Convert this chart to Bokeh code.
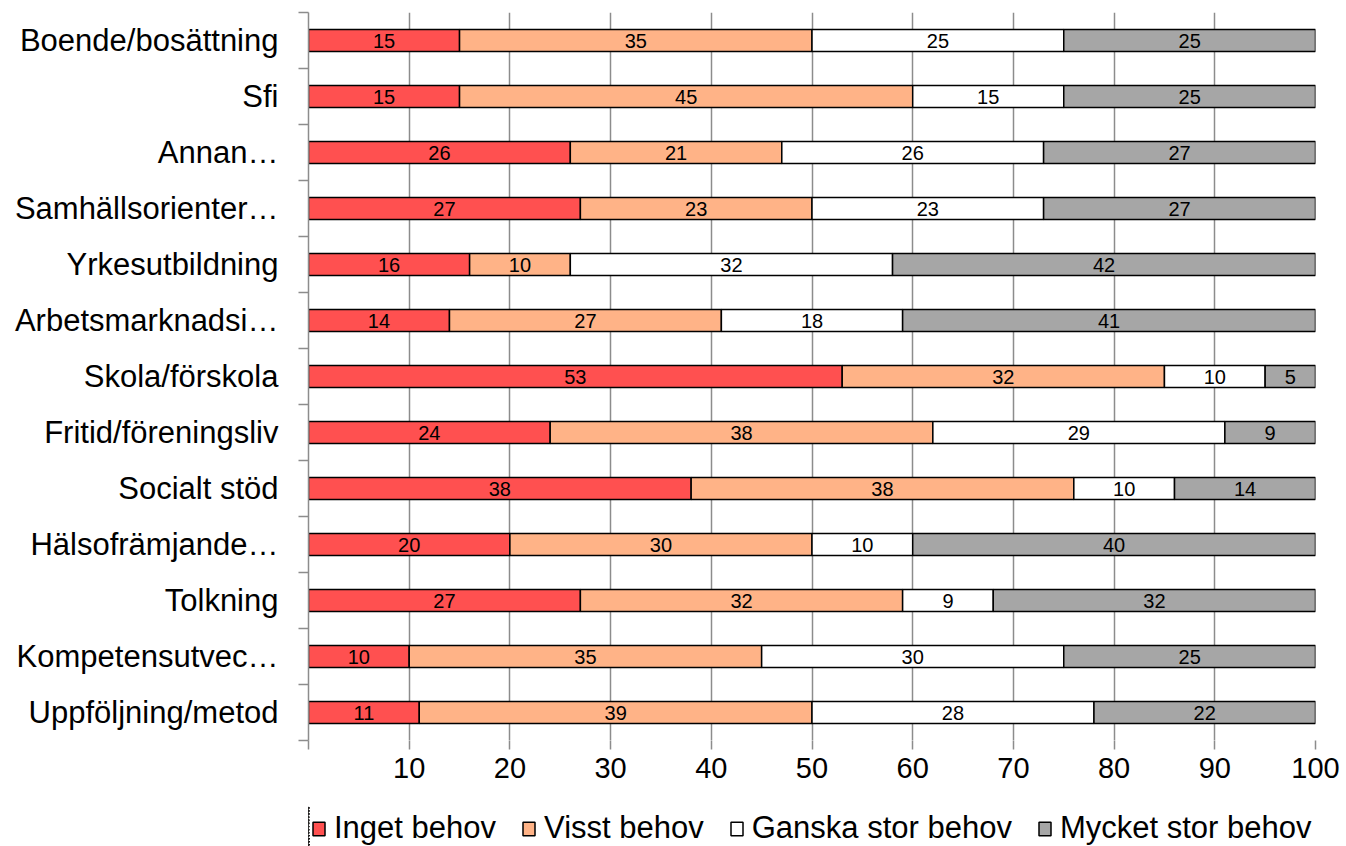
from bokeh.plotting import figure
from bokeh.models import ColumnDataSource, FixedTicker, Range1d, Legend, LegendItem
from bokeh.layouts import column
from bokeh.core.properties import value
from bokeh.embed import file_html
from bokeh.resources import INLINE

categories = ["Boende/bosättning", "Sfi", "Annan…", "Samhällsorienter…", "Yrkesutbildning",
              "Arbetsmarknadsi…", "Skola/förskola", "Fritid/föreningsliv", "Socialt stöd",
              "Hälsofrämjande…", "Tolkning", "Kompetensutvec…", "Uppföljning/metod"]
inget = [15, 15, 26, 27, 16, 14, 53, 24, 38, 20, 27, 10, 11]
visst = [35, 45, 21, 23, 10, 27, 32, 38, 38, 30, 32, 35, 39]
ganska = [25, 15, 26, 23, 32, 18, 10, 29, 10, 10, 9, 30, 28]
mycket = [25, 25, 27, 27, 42, 41, 5, 9, 14, 40, 32, 25, 22]
series_names = ["Inget behov", "Visst behov", "Ganska stor behov", "Mycket stor behov"]
colors = ["#FF5050", "#FFB387", "#FFFFFF", "#A6A6A6"]
x_ticks = [0, 10, 20, 30, 40, 50, 60, 70, 80, 90, 100]

FONT = "Liberation Sans"
n = len(categories)
ypos = [n - 0.5 - i for i in range(n)]
keys = ["inget", "visst", "ganska", "mycket"]
data = dict(y=ypos, inget=inget, visst=visst, ganska=ganska, mycket=mycket)
source = ColumnDataSource(data)

p = figure(width=1346, height=806, frame_width=1007, frame_height=728,
           output_backend="svg", toolbar_location=None,
           x_range=Range1d(0, 100), y_range=Range1d(0, n),
           min_border_left=308, min_border_top=12, min_border_right=31, min_border_bottom=66)
p.outline_line_color = None

renderers = p.hbar_stack(keys, y="y", height=0.39, source=source, color=colors,
                         line_color="black", line_width=1.5)

# value labels
lx, ly, lt = [], [], []
series = [inget, visst, ganska, mycket]
for i in range(n):
    left = 0
    for s in series:
        v = s[i]
        lx.append(left + v / 2)
        ly.append(ypos[i])
        lt.append(str(v))
        left += v
p.text(x=lx, y=ly, text=lt, text_align="center", text_baseline="middle",
       text_font=value(FONT), text_font_size="20px", text_color="black")

# axes
p.xaxis.ticker = FixedTicker(ticks=x_ticks)
p.xaxis.major_label_overrides = {0: ""}
p.xaxis.axis_line_color = None
p.xaxis.major_tick_line_color = "#8c8c8c"
p.xaxis.major_tick_line_width = 1.5
p.xaxis.major_tick_in = 0
p.xaxis.major_tick_out = 9
p.xaxis.minor_tick_line_color = None
p.xaxis.major_label_text_font = FONT
p.xaxis.major_label_text_font_size = "29px"
p.xaxis.major_label_text_color = "black"
p.xaxis.major_label_standoff = 8

p.yaxis.ticker = FixedTicker(ticks=ypos, minor_ticks=list(range(n + 1)))
p.yaxis.major_label_overrides = {y: c for y, c in zip(ypos, categories)}
p.yaxis.axis_line_color = "#8c8c8c"
p.yaxis.axis_line_width = 1.5
p.yaxis.major_tick_line_color = None
p.yaxis.major_tick_in = 0
p.yaxis.major_tick_out = 10
p.yaxis.minor_tick_line_color = "#8c8c8c"
p.yaxis.minor_tick_line_width = 1.5
p.yaxis.minor_tick_in = 0
p.yaxis.minor_tick_out = 10
p.yaxis.major_label_text_font = FONT
p.yaxis.major_label_text_font_size = "31px"
p.yaxis.major_label_text_color = "black"
p.yaxis.major_label_standoff = 20

p.xgrid.ticker = FixedTicker(ticks=x_ticks[1:])
p.xgrid.grid_line_color = "#8c8c8c"
p.xgrid.grid_line_width = 1.5
p.ygrid.grid_line_color = None

# legend strip below the chart: same series, ranged out of view, legend only
pl = figure(width=1346, height=40, output_backend="svg", toolbar_location=None,
            x_range=Range1d(1000, 1100), y_range=Range1d(0, n),
            x_axis_location=None, y_axis_location=None, min_border=0)
pl.grid.grid_line_color = None
pl.outline_line_color = None
legend_renderers = pl.hbar_stack(keys, y="y", height=0.39, source=source, color=colors,
                                 line_color="black", line_width=1.5)
legend = Legend(items=[LegendItem(label=name, renderers=[r]) for name, r in zip(series_names, legend_renderers)],
                orientation="horizontal", location=(3, 0))
legend.label_text_font = FONT
legend.label_text_font_size = "31px"
legend.label_text_color = "black"
legend.glyph_width = 15
legend.glyph_height = 17
legend.label_standoff = 8
legend.spacing = 25
legend.border_line_color = None
legend.background_fill_alpha = 0
legend.padding = 0
legend.margin = 0
pl.add_layout(legend, "center")

open("out.html", "w").write(file_html(column(p, pl), INLINE))
